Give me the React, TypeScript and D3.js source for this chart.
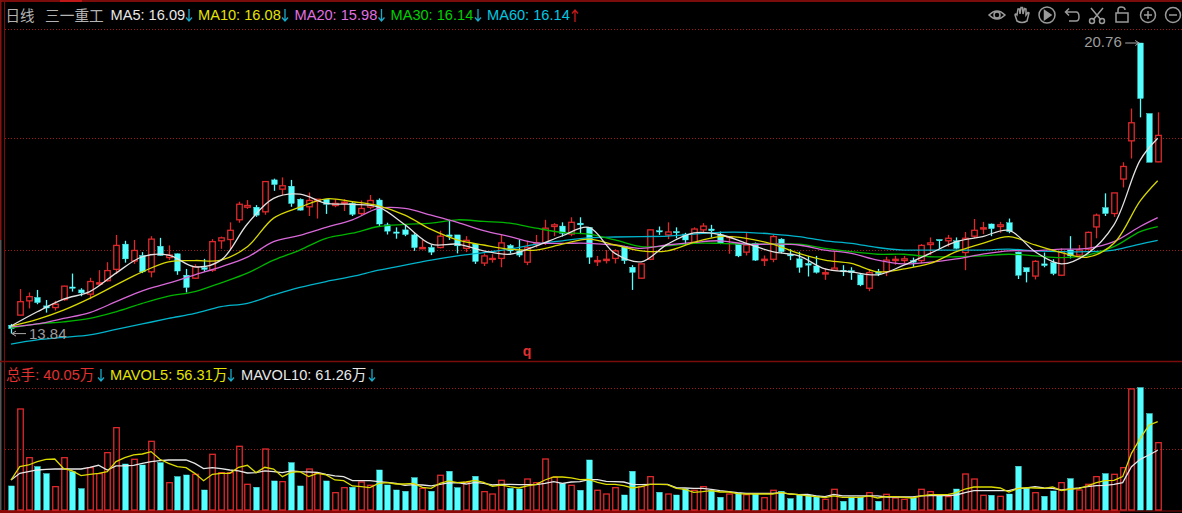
import React from "react";
import * as d3 from "d3";

const WIDTH = 1182;
const HEIGHT = 513;

// [open, high, low, close] for each trading day
const candles: [number, number, number, number][] = [
[14.04,14.07,13.84,13.96],[14.28,14.90,14.28,14.60],[14.62,14.82,14.44,14.72],[14.70,14.88,14.54,14.58],[14.50,14.64,14.34,14.45],[14.46,14.62,14.39,14.54],[14.65,14.98,14.62,14.97],[14.95,15.27,14.84,14.92],[14.88,14.92,14.73,14.81],[14.78,15.17,14.66,15.08],
[15.02,15.35,15.00,15.05],[15.10,15.54,15.08,15.34],[15.37,16.19,15.26,15.94],[15.97,16.05,15.53,15.62],[15.57,16.07,15.50,15.82],[15.70,15.78,15.28,15.31],[15.31,16.16,15.18,16.09],[15.92,16.12,15.69,15.70],[15.65,15.94,15.59,15.71],[15.74,15.75,15.24,15.33],
[15.23,15.38,14.82,14.94],[15.16,15.49,15.14,15.43],[15.41,15.62,15.31,15.37],[15.35,16.09,15.31,16.03],[16.05,16.15,15.86,16.12],[16.08,16.49,15.85,16.30],[16.55,16.98,16.48,16.92],[16.85,17.02,16.81,16.89],[16.85,16.90,16.62,16.66],[16.74,17.47,16.67,17.46],
[17.50,17.53,17.24,17.39],[17.28,17.56,17.14,17.36],[17.35,17.50,16.86,16.94],[17.04,17.06,16.77,16.78],[16.86,17.20,16.64,17.01],[16.99,17.04,16.58,17.04],[17.04,17.04,16.69,16.92],[16.89,17.04,16.85,16.94],[16.94,17.04,16.76,16.97],[16.94,16.97,16.64,16.68],
[16.70,17.01,16.66,16.82],[16.85,17.14,16.80,17.01],[17.02,17.06,16.39,16.45],[16.43,16.48,16.20,16.28],[16.26,16.37,16.10,16.23],[16.31,16.43,16.16,16.20],[16.19,16.23,15.81,15.89],[15.86,16.07,15.86,15.89],[15.89,15.95,15.71,15.78],[15.89,16.29,15.87,16.16],
[16.19,16.55,16.07,16.15],[16.19,16.19,15.75,15.93],[15.87,16.16,15.78,16.06],[15.97,15.99,15.50,15.56],[15.52,15.75,15.45,15.69],[15.61,15.73,15.53,15.63],[15.63,16.19,15.42,16.00],[15.94,15.97,15.75,15.81],[15.81,16.08,15.66,15.71],[15.54,16.05,15.47,15.89],
[15.97,16.19,15.89,16.00],[16.00,16.55,15.95,16.35],[16.39,16.47,16.16,16.43],[16.40,16.49,16.15,16.23],[16.21,16.61,16.16,16.49],[16.47,16.61,16.21,16.43],[16.37,16.37,15.50,15.66],[15.55,15.69,15.45,15.58],[15.58,15.83,15.51,15.61],[15.63,15.85,15.51,15.81],
[15.91,15.93,15.50,15.58],[15.42,15.47,14.88,15.30],[15.16,15.50,15.15,15.50],[15.61,16.32,15.59,16.31],[16.29,16.39,16.19,16.26],[16.19,16.49,16.09,16.26],[16.27,16.37,16.11,16.24],[16.21,16.24,15.95,16.07],[16.01,16.37,15.99,16.33],[16.31,16.47,16.24,16.40],
[16.33,16.43,16.13,16.29],[16.19,16.27,15.97,15.99],[16.13,16.16,15.74,16.15],[15.97,15.99,15.66,15.69],[15.78,16.25,15.70,15.95],[15.99,16.01,15.57,15.59],[15.58,15.70,15.45,15.61],[15.61,16.19,15.54,16.15],[16.09,16.11,15.75,15.79],[15.72,15.85,15.59,15.69],
[15.62,15.79,15.29,15.42],[15.51,15.69,15.20,15.47],[15.45,15.69,15.27,15.30],[15.26,15.39,15.12,15.29],[15.35,15.81,15.35,15.40],[15.35,15.47,15.21,15.32],[15.34,15.42,15.12,15.29],[15.24,15.27,14.97,15.00],[14.92,15.37,14.85,15.29],[15.31,15.38,15.21,15.27],
[15.31,15.67,15.21,15.59],[15.58,15.69,15.48,15.61],[15.58,15.69,15.51,15.62],[15.58,15.65,15.43,15.54],[15.58,15.97,15.51,15.94],[15.96,16.13,15.71,16.00],[16.08,16.08,15.85,16.05],[16.05,16.19,15.91,16.11],[16.05,16.13,15.85,15.87],[15.77,16.26,15.35,16.11],
[16.16,16.57,16.11,16.30],[16.33,16.50,16.21,16.36],[16.45,16.46,16.16,16.34],[16.39,16.50,16.24,16.43],[16.48,16.58,16.23,16.27],[15.78,15.79,15.14,15.23],[15.41,15.41,15.06,15.31],[15.21,15.59,15.13,15.56],[15.50,15.77,15.42,15.46],[15.53,15.61,15.23,15.27],
[15.23,15.87,15.21,15.79],[15.83,16.16,15.63,15.69],[15.71,15.95,15.67,15.83],[15.85,16.27,15.83,16.25],[16.38,16.70,16.11,16.66],[16.84,17.18,16.64,16.70],[16.70,17.19,16.62,17.19],[17.52,17.92,17.32,17.82],[18.43,19.20,18.01,18.86],[20.76,20.76,18.99,19.44],
[19.08,19.08,17.92,17.92],[17.93,19.11,17.92,18.56],
];

// Volume in 万 lots for each trading day
const volumes = [
39.4,165.6,85.8,71.1,59.6,38.3,85.8,62.9,35.0,69.4,59.6,94.0,135.0,75.4,83.1,73.8,112.6,77.6,44.8,54.7,
57.4,58.5,32.8,91.3,61.2,61.2,104.4,42.1,37.2,100.0,47.6,46.5,77.6,39.4,67.2,60.1,47.6,28.4,36.6,37.2,
45.9,40.5,65.6,41.0,32.8,30.6,53.0,35.5,30.6,56.9,63.4,36.6,45.4,55.2,30.1,26.2,48.7,35.5,34.4,50.8,
44.8,83.6,53.6,43.7,40.5,32.3,82.0,32.3,26.2,36.6,24.6,63.4,38.3,54.7,29.0,26.2,24.6,34.4,32.3,38.3,
32.3,20.8,26.2,27.9,25.1,26.2,20.2,32.3,30.6,18.6,25.1,24.6,23.0,17.5,33.9,14.2,21.3,21.3,28.4,14.2,
25.7,19.7,17.5,19.7,33.9,30.1,24.1,21.9,34.4,59.0,50.8,24.1,24.1,22.4,26.2,71.6,35.5,28.4,22.4,31.2,
44.8,51.4,32.8,42.1,54.7,59.6,58.5,69.4,198.5,200.6,158.0,110.4,
];

const mavol5 = [
49.2,71.1,73.8,79.3,83.1,83.6,68.3,64.0,56.3,58.5,60.1,62.9,79.3,85.8,90.2,91.8,95.7,83.1,76.5,71.1,
69.4,60.1,48.1,58.5,60.1,60.1,70.0,73.3,61.2,70.0,67.2,54.7,61.8,62.9,54.7,60.1,57.4,49.2,48.1,39.4,
38.3,36.6,43.7,44.8,42.6,42.6,43.7,37.2,35.5,43.7,47.6,44.8,45.9,48.7,45.4,38.8,41.0,38.3,36.1,39.4,
42.1,49.2,54.1,54.1,52.5,49.8,50.3,45.4,42.1,42.1,39.9,36.1,38.3,42.1,42.1,41.5,35.5,33.9,29.0,30.1,
31.7,29.5,29.5,26.8,26.2,26.2,26.2,26.2,29.0,26.2,25.1,23.0,21.9,20.2,23.0,20.8,20.8,20.8,23.0,19.7,
21.9,21.9,20.8,19.7,23.0,25.1,25.1,25.1,28.4,34.4,37.7,37.7,37.7,36.1,29.5,35.0,36.6,36.1,35.5,37.7,
31.7,34.4,35.0,39.4,44.8,48.1,48.7,54.7,92.9,117.5,138.9,144.9,
];

const mavol10 = [
49.2,60.1,62.9,65.6,66.7,67.2,67.2,67.2,67.2,70.0,73.3,65.6,72.2,72.2,73.3,76.5,79.3,80.9,82.0,82.0,
82.0,76.5,67.8,69.4,67.8,65.6,64.0,60.7,61.2,64.0,62.9,61.2,64.0,62.9,62.3,61.8,58.5,55.8,54.7,48.1,
48.1,48.1,46.5,45.4,43.7,40.5,41.5,41.0,39.4,42.1,44.3,44.8,42.6,45.4,43.7,41.0,42.1,42.1,41.5,41.5,
41.5,43.7,46.5,43.7,45.9,46.5,49.8,49.8,47.0,46.5,45.9,42.1,41.5,42.1,42.1,42.1,36.6,36.1,35.5,35.5,
33.9,31.7,30.1,28.4,27.3,27.3,27.3,27.3,28.4,26.2,25.1,25.7,23.0,21.9,25.7,23.0,23.0,23.0,23.0,23.0,
21.3,21.3,21.3,21.3,23.0,23.5,23.5,23.5,24.6,28.4,31.7,31.7,31.7,31.7,31.7,35.5,36.1,38.3,36.1,35.5,
32.8,34.4,36.1,38.3,39.9,40.5,42.1,44.8,71.1,83.1,90.2,97.9,
];

const maDays = [0,3,6,9,12,15,18,21,24,27,30,33,36,39,42,45,48,51,54,57,60,63,66,69,72,75,78,81,84,87,90,93,96,99,102,105,108,111,114,117,120,123,126,129,131];

const ma60 = [13.59,13.69,13.75,13.81,13.94,14.07,14.20,14.32,14.48,14.56,14.76,14.94,15.08,15.20,15.35,15.47,15.59,15.69,15.77,15.85,15.97,16.05,16.12,16.14,16.15,16.16,16.21,16.25,16.25,16.21,16.15,16.05,15.99,15.89,15.83,15.83,15.83,15.83,15.85,15.81,15.79,15.79,15.83,15.97,16.06];
const ma30 = [13.97,14.07,14.12,14.20,14.36,14.56,14.73,14.84,15.05,15.28,15.59,15.83,16.11,16.23,16.39,16.44,16.47,16.55,16.51,16.47,16.35,16.25,16.21,16.07,15.91,15.93,15.99,15.99,15.97,15.97,15.97,15.87,15.79,15.73,15.73,15.67,15.67,15.69,15.73,15.69,15.65,15.71,15.91,16.27,16.39];
const ma20 = [14.00,14.07,14.20,14.34,14.60,14.86,15.04,15.24,15.43,15.66,16.03,16.18,16.37,16.55,16.82,16.82,16.66,16.49,16.29,16.15,16.00,15.99,15.99,15.95,15.87,15.95,16.01,16.05,15.97,15.97,15.95,15.83,15.75,15.59,15.50,15.54,15.62,15.73,15.81,15.81,15.85,15.87,16.03,16.39,16.60];
const ma10 = [14.02,14.18,14.40,14.68,15.00,15.31,15.55,15.58,15.59,15.91,16.59,16.85,17.05,16.98,16.88,16.66,16.32,16.07,15.95,15.85,15.83,15.97,16.09,15.95,15.81,15.81,16.01,16.15,16.11,15.97,15.75,15.59,15.51,15.31,15.38,15.51,15.79,15.99,16.15,15.95,15.77,15.66,15.99,17.00,17.48];
const ma5 = [14.02,14.36,14.66,14.84,15.28,15.67,15.71,15.43,15.59,16.45,17.06,17.16,16.94,16.92,16.85,16.43,15.97,15.97,15.81,15.73,15.93,16.17,16.37,15.75,15.55,15.97,16.24,16.20,15.99,15.79,15.69,15.38,15.31,15.24,15.47,15.75,16.03,16.15,16.30,15.79,15.50,15.75,16.43,17.97,18.49];

const priceGrid = [21.09, 18.5, 15.83];
const volumeGrid = [100, 200];
const maxPrice = 20.76;
const minPrice = 13.84;

const priceLegendLabels = ["MA5: 16.09", "MA10: 16.08", "MA20: 15.98", "MA30: 16.14", "MA60: 16.14"];
const priceLegendUp = [false, false, false, false, true];
const volumeLegendLabels = ["总手: 40.05万", "MAVOL5: 56.31万", "MAVOL10: 61.26万"];

// Styles and layout
const RED = "#e0282c";
const CYAN = "#54ffff";
const BORDER = "#7a0c0c";
const GRID = "#a01818";
const ARROW_DOWN = "#19a9c9";
const ARROW_UP = "#c81818";
const maStyles = [
  { values: ma60, color: "#00b4cc" },
  { values: ma30, color: "#00b400" },
  { values: ma20, color: "#d868d8" },
  { values: ma10, color: "#d8d800" },
  { values: ma5, color: "#e2e2e2" },
];
const priceLegendX = [110.5, 198, 294.5, 390.5, 487];
const priceLegendArrowX = [189, 285, 381.5, 478, 575];
const priceLegendColor = ["#e8e8e8", "#e4e400", "#e070e0", "#00d000", "#00c8e0"];
const volumeLegendX = [6, 110, 241];
const volumeLegendArrowX = [101, 231, 372];
const volumeLegendColor = ["#e03030", "#e4e400", "#e8e8e8"];

const x = d3.scaleLinear().domain([0, candles.length - 1]).range([11, 1157.7]);
const y = d3.scaleLinear().domain([minPrice, maxPrice]).range([333.6, 43]);
const yVol = d3.scaleLinear().domain([0, 100]).range([510, 449]);

const SANS = "'Liberation Sans', Arial, 'Noto Sans CJK SC', sans-serif";
const CJK = "'Noto Sans CJK SC', sans-serif";

function Arrow({ x: ax, cy, up, color }: { x: number; cy: number; up: boolean; color: string }) {
  const d = up
    ? `M${ax} ${cy + 6.5} L${ax} ${cy - 5.5} M${ax - 3} ${cy - 2} L${ax} ${cy - 5.5} L${ax + 3} ${cy - 2}`
    : `M${ax} ${cy - 6.5} L${ax} ${cy + 5.5} M${ax - 3} ${cy + 2} L${ax} ${cy + 5.5} L${ax + 3} ${cy + 2}`;
  return <path d={d} fill="none" stroke={color} strokeWidth={1.3} />;
}

function Icons() {
  const s = { fill: "none", stroke: "#9a9a9a", strokeWidth: 1.5 };
  return (
    <g {...s}>
      <path d="M989 15 Q997 7 1005 15 Q997 23 989 15Z" />
      <circle cx={997} cy={15} r={3} />
      <path d="M1017 21 L1015 15 Q1015 13 1017 15 L1018 9 L1019.5 9 L1020 14 L1021 7.5 L1022.5 7.5 L1023 14 L1024.5 8.5 L1026 9 L1026 15 L1028 12.5 L1029 13 L1027 21 Q1022 24 1017 21Z" />
      <circle cx={1047} cy={15} r={8} />
      <path d="M1044.5 10.5 L1051 15 L1044.5 19.5Z" fill="#9a9a9a" />
      <path d="M1066 12 L1076 12 Q1079 12 1079 17 Q1079 21 1076 21 L1069 21 M1069 8.5 L1065.5 12 L1069 15.5" />
      <path d="M1091 8 L1101 20 M1103 8 L1093 20" />
      <circle cx={1092} cy={21} r={2.5} />
      <circle cx={1102} cy={21} r={2.5} />
      <rect x={1116} y={13} width={12} height={9} />
      <path d="M1118 13 L1118 10 Q1118 7 1121 7 Q1125 7 1125 10" />
      <circle cx={1148} cy={15} r={7.5} />
      <path d="M1144 15 L1152 15 M1148 11 L1148 19" />
      <circle cx={1173} cy={15} r={7.5} />
      <path d="M1169 15 L1177 15" />
    </g>
  );
}

export default function App() {
  const maLine = d3
    .line<number>()
    .x((_, i) => x(maDays[i]))
    .y((d) => y(d))
    .curve(d3.curveCatmullRom.alpha(0.5));
  const volLine = d3
    .line<number>()
    .x((_, i) => x(i))
    .y((d) => yVol(d));
  const maxIdx = d3.maxIndex(candles, (c) => c[1]);
  const minIdx = d3.minIndex(candles, (c) => c[2]);

  return (
    <svg
      width={WIDTH}
      height={HEIGHT}
      style={{ position: "absolute", left: 0, top: 0, display: "block", background: "#000" }}
    >
      <rect width={WIDTH} height={HEIGHT} fill="#000" />

      {/* frame */}
      <line x1={0} x2={WIDTH} y1={1} y2={1} stroke={BORDER} strokeWidth={2} />
      <line x1={60} x2={82} y1={1} y2={1} stroke="#c01818" strokeWidth={2} />
      <line x1={4.5} x2={4.5} y1={0} y2={510} stroke={BORDER} />
      <line x1={0.5} x2={0.5} y1={0} y2={240} stroke="#8a1010" strokeWidth={2} />
      <line x1={0.5} x2={0.5} y1={240} y2={513} stroke="#555" strokeWidth={2} />
      <line x1={0} x2={WIDTH} y1={361.5} y2={361.5} stroke={BORDER} strokeWidth={1.5} />
      <line x1={0} x2={1120} y1={511.5} y2={511.5} stroke="#8a0808" strokeWidth={3} />
      <line x1={1120} x2={WIDTH} y1={511} y2={511} stroke="#5a0808" strokeWidth={1.5} />

      {/* grids */}
      {priceGrid.map((p) => (
        <line key={p} x1={5} x2={WIDTH} y1={Math.round(y(p)) + 0.5} y2={Math.round(y(p)) + 0.5} stroke={GRID} strokeDasharray="1 2" />
      ))}
      {volumeGrid.map((v) => (
        <line key={v} x1={5} x2={WIDTH} y1={Math.round(yVol(v)) + 0.5} y2={Math.round(yVol(v)) + 0.5} stroke={GRID} strokeDasharray="1 2" />
      ))}

      {/* candles */}
      {candles.map(([o, h, l, c], i) => {
        const up = c >= o;
        const cx = Math.round(x(i)) + 0.5;
        const top = y(Math.max(o, c));
        const bottom = y(Math.min(o, c));
        const color = up ? RED : CYAN;
        return (
          <g key={i}>
            <line x1={cx} x2={cx} y1={y(h)} y2={top} stroke={color} strokeWidth={1.3} />
            <line x1={cx} x2={cx} y1={bottom} y2={y(l)} stroke={color} strokeWidth={1.3} />
            <rect
              x={cx - 2.75}
              y={top}
              width={5.5}
              height={Math.max(bottom - top, 1)}
              fill={up ? "#000" : CYAN}
              stroke={color}
              strokeWidth={up ? 1.3 : 0.4}
            />
          </g>
        );
      })}

      {/* averages */}
      {maStyles.map((m) => (
        <path key={m.color} d={maLine(m.values)!} fill="none" stroke={m.color} strokeWidth={1.3} />
      ))}

      {/* high and low marks */}
      <g fontFamily={SANS} fontSize={15} fill="#9c9c9c">
        <text x={x(maxIdx) - 56} y={y(maxPrice) + 4}>{maxPrice.toFixed(2)}</text>
        <line x1={x(maxIdx) - 15} x2={x(maxIdx) - 1} y1={y(maxPrice)} y2={y(maxPrice)} stroke="#a8a8a8" />
        <path d={`M${x(maxIdx) - 5} ${y(maxPrice) - 2.5} L${x(maxIdx) - 1} ${y(maxPrice)} L${x(maxIdx) - 5} ${y(maxPrice) + 2.5}`} fill="none" stroke="#a8a8a8" />
        <text x={x(minIdx) + 18} y={y(minPrice) + 5}>{minPrice.toFixed(2)}</text>
        <line x1={x(minIdx) + 1} x2={x(minIdx) + 15} y1={y(minPrice)} y2={y(minPrice)} stroke="#a8a8a8" />
        <path d={`M${x(minIdx) + 5} ${y(minPrice) - 2.5} L${x(minIdx) + 1} ${y(minPrice)} L${x(minIdx) + 5} ${y(minPrice) + 2.5}`} fill="none" stroke="#a8a8a8" />
      </g>

      <text x={527} y={356} textAnchor="middle" fontFamily={SANS} fontSize={14} fontWeight="bold" fill="#e03030">q</text>

      {/* volume bars */}
      {volumes.map((v, i) => {
        const up = candles[i][3] >= candles[i][0];
        const cx = Math.round(x(i)) + 0.5;
        return (
          <rect
            key={i}
            x={cx - 2.75}
            y={yVol(v)}
            width={5.5}
            height={yVol(0) - yVol(v)}
            fill={up ? "none" : CYAN}
            stroke={up ? RED : CYAN}
            strokeWidth={up ? 1.3 : 0.4}
          />
        );
      })}
      <path d={volLine(mavol10)!} fill="none" stroke="#e6e6e6" strokeWidth={1.3} />
      <path d={volLine(mavol5)!} fill="none" stroke="#dcdc00" strokeWidth={1.3} />

      {/* headers */}
      <text x={5.5} y={20.5} fontFamily={CJK} fontSize={14.5} fill="#b4b4b4">日线</text>
      <text x={45} y={20.5} fontFamily={CJK} fontSize={14.7} fill="#b4b4b4">三一重工</text>
      {priceLegendLabels.map((label, i) => (
        <g key={label}>
          <text x={priceLegendX[i]} y={20} fontFamily={SANS} fontSize={14.6} fill={priceLegendColor[i]}>{label}</text>
          <Arrow x={priceLegendArrowX[i]} cy={15.5} up={priceLegendUp[i]} color={priceLegendUp[i] ? ARROW_UP : ARROW_DOWN} />
        </g>
      ))}
      {volumeLegendLabels.map((label, i) => (
        <g key={label}>
          <text x={volumeLegendX[i]} y={379.5} fontFamily={SANS} fontSize={14.6} fill={volumeLegendColor[i]}>{label}</text>
          <Arrow x={volumeLegendArrowX[i]} cy={375.5} up={false} color={ARROW_DOWN} />
        </g>
      ))}

      <Icons />
    </svg>
  );
}
